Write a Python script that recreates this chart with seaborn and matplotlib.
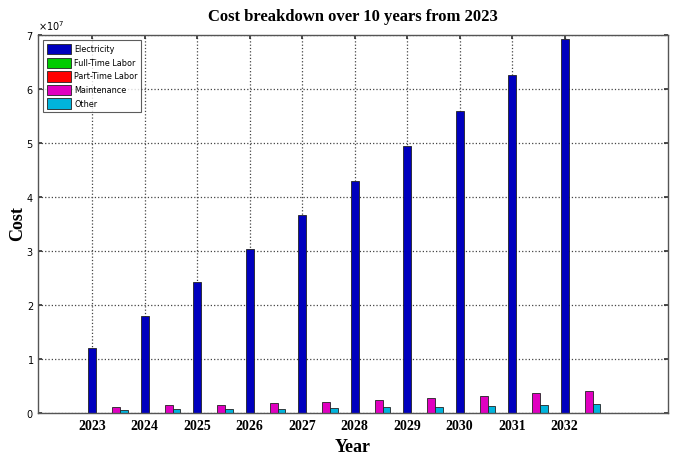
import numpy as np
import pandas as pd
import seaborn as sns
import matplotlib.pyplot as plt
from matplotlib.ticker import ScalarFormatter

# Data
years = ['2023', '2024', '2025', '2026', '2027', '2028', '2029', '2030', '2031', '2032']
electricity = [1.20e7, 1.80e7, 2.43e7, 3.04e7, 3.67e7, 4.30e7, 4.94e7, 5.59e7, 6.26e7, 6.93e7]
full_time = [5e4, 5e4, 5e4, 5e4, 5e4, 5e4, 5e4, 5e4, 5e4, 5e4]
part_time = [5e4, 5e4, 5e4, 5e4, 5e4, 5e4, 5e4, 5e4, 5e4, 5e4]
maintenance = [1.17e6, 1.42e6, 1.54e6, 1.85e6, 2.04e6, 2.35e6, 2.78e6, 3.09e6, 3.64e6, 4.13e6]
other = [0.55e6, 0.68e6, 0.72e6, 0.80e6, 0.93e6, 1.05e6, 1.17e6, 1.36e6, 1.48e6, 1.73e6]

categories = ['Electricity', 'Full-Time Labor', 'Part-Time Labor', 'Maintenance', 'Other']
colors = ['#0000BE', '#00CC00', '#FF0000', '#E000C0', '#00B4DC']

series = [electricity, full_time, part_time, maintenance, other]
rows = []
for cat, vals in zip(categories, series):
    for y, v in zip(years, vals):
        rows.append({'Year': y, 'Cost': v, 'Category': cat})
df = pd.DataFrame(rows)

sns.set_theme(style='white', rc={'text.color': 'black', 'axes.labelcolor': 'black',
                                 'xtick.color': 'black', 'ytick.color': 'black'})

fig = plt.figure(figsize=(6.76, 4.58), dpi=100)
ax = fig.add_axes([38 / 676, 45 / 458, 630 / 676, 378 / 458])

sns.barplot(data=df, x='Year', y='Cost', hue='Category', hue_order=categories,
            palette=colors, width=0.76, edgecolor='#222222', linewidth=0.6,
            saturation=1, ax=ax)

# MATLAB-style axes: blue bar sits on the tick/grid line
offset = -0.304
ticks = np.arange(len(years)) + offset
ax.set_xticks(ticks)
ax.set_xticklabels(years, fontfamily='Liberation Serif', fontweight='bold', fontsize=10)
ax.set_xlim(offset - 1.03, offset - 1.03 + 12)
ax.set_ylim(0, 7e7)
ax.set_yticks(np.arange(0, 8) * 1e7)

fmt = ScalarFormatter(useMathText=True)
fmt.set_powerlimits((0, 0))
ax.yaxis.set_major_formatter(fmt)
ax.yaxis.get_offset_text().set_fontsize(7)
ax.tick_params(axis='y', labelsize=7, pad=3)
ax.tick_params(axis='x', pad=5)
ax.tick_params(direction='in', length=3, top=True, right=True,
               bottom=True, left=True, color='#333333')

ax.grid(True, linestyle=':', color='#444444', linewidth=0.9)
for s in ax.spines.values():
    s.set_color('#555555')
    s.set_linewidth(1)

ax.set_title('Cost breakdown over 10 years from 2023', fontfamily='Liberation Serif',
             fontweight='bold', fontsize=12, pad=10)
ax.set_xlabel('Year', fontfamily='Liberation Serif', fontweight='bold', fontsize=13, labelpad=4)
ax.set_ylabel('Cost', fontfamily='Liberation Serif', fontweight='bold', fontsize=13, labelpad=0)

leg = ax.legend(loc='upper left', fontsize=6.5, frameon=True, fancybox=False,
                edgecolor='#333333', handlelength=2.6, handleheight=1.4,
                handletextpad=0.4, borderaxespad=0.6, labelspacing=0.35,
                borderpad=0.4)
for t in leg.get_texts():
    t.set_fontstretch('condensed')
leg.get_frame().set_linewidth(0.8)

fig.savefig('out.png', dpi=100)
